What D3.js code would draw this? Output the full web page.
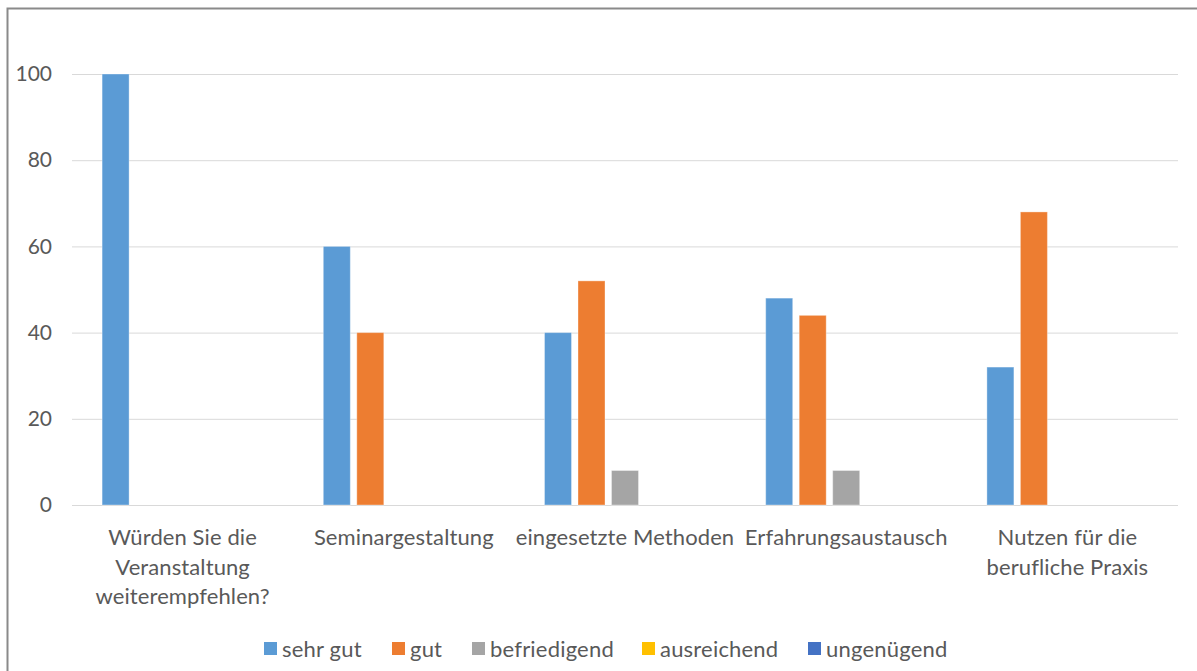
<!DOCTYPE html>
<html><head><meta charset="utf-8">
<script src="https://cdn.jsdelivr.net/npm/d3@7"></script>
<style>
html,body{margin:0;padding:0;background:#fff;}
svg{display:block;}
text{font-family:Lato,"Open Sans",sans-serif;fill:#595959;}
</style></head>
<body>
<svg id="chart" width="1197" height="671"></svg>
<script>
const categories = ["Würden Sie die\nVeranstaltung\nweiterempfehlen?", "Seminargestaltung", "eingesetzte Methoden", "Erfahrungsaustausch", "Nutzen für die\nberufliche Praxis"];
const seriesNames = ["sehr gut", "gut", "befriedigend", "ausreichend", "ungenügend"];
const sehrGut = [100, 60, 40, 48, 32];
const gut = [0, 40, 52, 44, 68];
const befriedigend = [0, 0, 8, 8, 0];
const ausreichend = [0, 0, 0, 0, 0];
const ungenuegend = [0, 0, 0, 0, 0];
const yTicks = [0, 20, 40, 60, 80, 100];
const colors = ["#5B9BD5", "#ED7D31", "#A5A5A5", "#FFC000", "#4472C4"];

const seriesValues = [sehrGut, gut, befriedigend, ausreichend, ungenuegend];
const svg = d3.select("#chart");

// chart border
svg.append("rect").attr("x", 7.5).attr("y", 8.5).attr("width", 1300).attr("height", 800)
  .attr("fill", "none").attr("stroke", "#8a8a8a").attr("stroke-width", 2);

const plotL = 72, plotR = 1178, plotT = 74, plotB = 505;
const x0 = d3.scaleBand().domain(categories.map((d, i) => i)).range([plotL, plotR]).padding(0);
const groupW = 161;
const x1 = d3.scaleBand().domain(seriesNames).range([0, groupW]).paddingInner(0.194).paddingOuter(0);
const y = d3.scaleLinear().domain([0, 100]).range([plotB, plotT]);

// gridlines
const yAxis = d3.axisLeft(y).tickValues(yTicks).tickSize(-(plotR - plotL)).tickPadding(20).tickFormat(d3.format("d"));
const gy = svg.append("g").attr("transform", `translate(${plotL},0)`).call(yAxis);
gy.select(".domain").remove();
gy.selectAll(".tick line").attr("stroke", "#d9d9d9").attr("stroke-width", 1);
gy.selectAll(".tick text").attr("font-size", 21).attr("fill", "#595959")
  .attr("font-family", "Lato, 'Open Sans', sans-serif");

// bars
const groups = svg.append("g").selectAll("g").data(categories).join("g")
  .attr("transform", (d, i) => `translate(${x0(i) + (x0.bandwidth() - groupW) / 2},0)`);
groups.selectAll("rect")
  .data((d, i) => seriesNames.map((s, k) => ({s, k, v: seriesValues[k][i]})).filter(e => e.v > 0))
  .join("rect")
  .attr("x", e => x1(e.s))
  .attr("width", x1.bandwidth())
  .attr("y", e => y(e.v))
  .attr("height", e => y(0) - y(e.v))
  .attr("fill", e => colors[e.k])
  .attr("stroke", "#ffffff").attr("stroke-opacity", 0.35).attr("stroke-width", 1);

// category labels
const labels = svg.append("g").selectAll("text").data(categories).join("text")
  .attr("text-anchor", "middle")
  .attr("font-size", 22)
  .attr("letter-spacing", 0.1)
  .attr("transform", (d, i) => `translate(${x0(i) + x0.bandwidth() / 2},545)`);
labels.each(function(d) {
  const lines = d.split("\n");
  d3.select(this).selectAll("tspan").data(lines).join("tspan")
    .attr("x", 0).attr("dy", (l, j) => j === 0 ? 0 : 29.5).text(l => l);
});

// legend
const legendX = [264, 392, 472, 642, 808];
const lg = svg.append("g").selectAll("g").data(seriesNames).join("g")
  .attr("transform", (d, i) => `translate(${legendX[i]},642)`);
lg.append("rect").attr("width", 13).attr("height", 13).attr("fill", (d, i) => colors[i]);
lg.append("text").attr("x", 18).attr("y", 15).attr("font-size", 22).attr("letter-spacing", 0.2).text(d => d);
</script>
</body></html>
